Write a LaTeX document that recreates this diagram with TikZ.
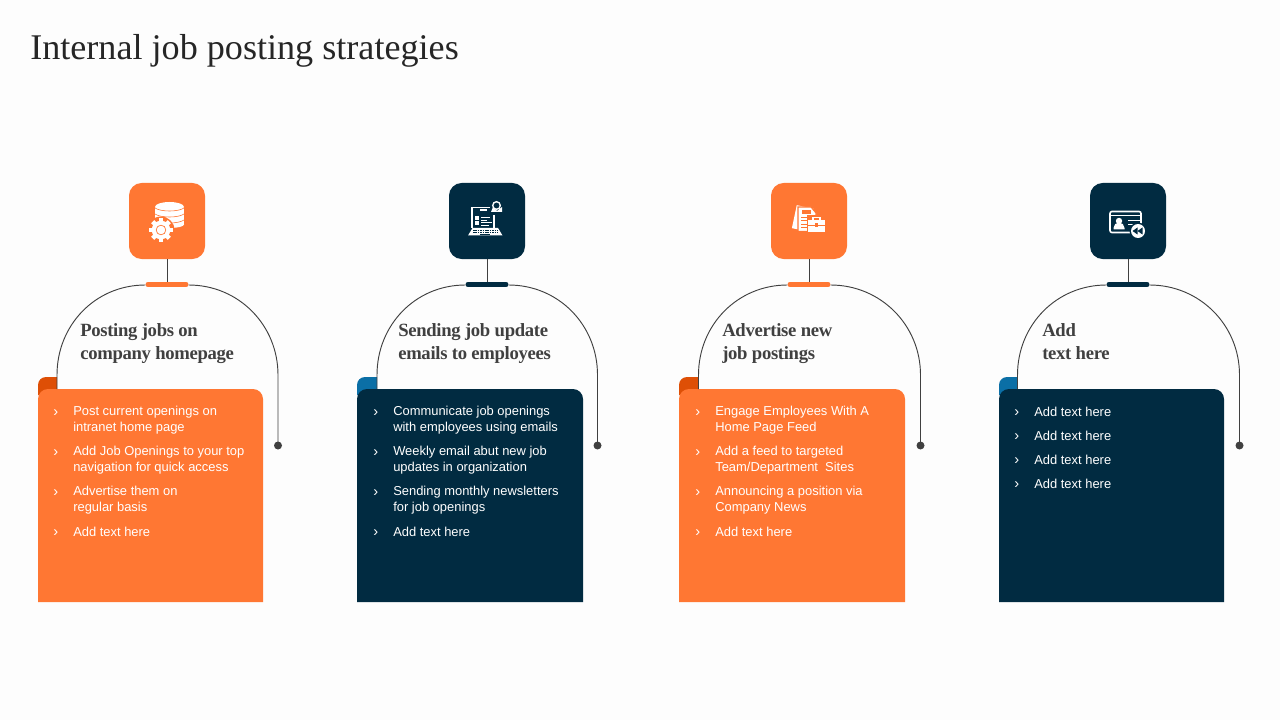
\documentclass[tikz,border=0pt]{standalone}
\usepackage{fontspec}
\setmainfont{Liberation Sans}
\newfontfamily\serifhead{Liberation Serif}
\newfontfamily\seriftight[LetterSpace=-1.7]{Liberation Serif}
\usetikzlibrary{calc}
\definecolor{bgc}{HTML}{FDFDFD}
\definecolor{orangec}{HTML}{FF7733}
\definecolor{orangedk}{HTML}{DE4F06}
\definecolor{navyc}{HTML}{012B41}
\definecolor{bluedk}{HTML}{0B6FA6}
\definecolor{linec}{HTML}{404040}
\definecolor{titlec}{HTML}{262626}
\tikzset{
  x=0.75pt,y=-0.75pt,
  iconbox/.style={draw=none,minimum width=57pt,minimum height=57pt,rounded corners=9.5pt,inner sep=0pt},
  capbar/.style={draw=none,minimum width=32pt,minimum height=3.6pt,rounded corners=1.5pt,inner sep=0pt},
  arcline/.style={draw=linec,line width=0.7pt},
  enddot/.style={circle,fill=linec,minimum size=6pt,inner sep=0pt},
  headtxt/.style={anchor=north west,inner sep=0pt,align=left,text=linec,font=\seriftight\bfseries\fontsize{14}{17.3}\selectfont},
  bultxt/.style={anchor=west,inner sep=0pt,align=left,text=white,font=\fontsize{9.7}{12}\selectfont},
  bulmark/.style={anchor=west,inner sep=0pt,text=white,font=\fontsize{11}{12}\selectfont},
}
% #1 id, #2 card left, #3 card right, #4 icon centre, #5 arc left, #6 arc right, #7 main colour, #8 tab colour
\newcommand{\colframe}[8]{
  \fill[#8] (#5,395) -- (#2,395) [rounded corners=6pt] -- (#2,377) [sharp corners] -- (#5,377) -- cycle;
  \fill[#7,rounded corners=7.5pt] (#2,602) [sharp corners] -- (#2,420) [rounded corners=7.5pt] -- (#2,389) -- (#3,389) -- (#3,420) [sharp corners] -- (#3,602) -- cycle;
  \node[iconbox,fill=#7] (#1icon) at (#4,221) {};
  \node[capbar,fill=#7] (#1bar) at (#4,284.5) {};
  \coordinate (#1start) at (#5,389);
  \node[enddot] (#1dot) at (#6,445.5) {};
  \draw[arcline] (#1icon.south) -- (#1icon.south |- #1bar.north);
  \draw[arcline] (#1start) -- (#5,375) .. controls (#5,325) and ($(#1bar.west)+(-50,0.5)$) .. ($(#1bar.west)+(0,0.5)$);
  \draw[arcline] ($(#1bar.east)+(0,0.5)$) .. controls ($(#1bar.east)+(50,0.5)$) and (#6,325) .. (#6,375) -- (#1dot.center);
}
% #1 name, #2 mark x, #3 text x, #4 centre y, #5 first-line y, #6 text
\newcommand{\bul}[6]{
  \node[bulmark] (#1m) at (#2,#5+1) {›};
  \node[bultxt] (#1t) at (#3,#4) {#6};
}
\begin{document}
\begin{tikzpicture}
\useasboundingbox (0,0) rectangle (1280,720);
\fill[bgc] (0,0) rectangle (1280,720);
\node[anchor=base west,inner sep=0pt,text=titlec,font=\serifhead\fontsize{27.1}{32}\selectfont] (title) at (30,60) {Internal job posting strategies};

\colframe{a}{38}{263}{167}{57}{278}{orangec}{orangedk}
\colframe{b}{357}{583}{487}{377}{597.5}{navyc}{bluedk}
\colframe{c}{679}{905}{809}{698.5}{920.5}{orangec}{orangedk}
\colframe{d}{999}{1224}{1128}{1017.5}{1239.5}{navyc}{bluedk}

\node[headtxt] (ah) at (80,323) {Posting jobs on\\company homepage};
\node[headtxt] (bh) at (398,323) {Sending job update\\emails to employees};
\node[headtxt] (ch) at (722,323) {Advertise new\\job postings};
\node[headtxt] (dh) at (1042,323) {Add\\text here};

\bul{a1}{53}{73}{420}{412}{Post current openings on\\intranet home page}
\bul{a2}{53}{73}{460}{452}{Add Job Openings to your top\\navigation for quick access}
\bul{a3}{53}{73}{500}{492}{Advertise them on\\regular basis}
\bul{a4}{53}{73}{532}{532}{Add text here}

\bul{b1}{373}{393}{420}{412}{Communicate job openings\\with employees using emails}
\bul{b2}{373}{393}{460}{452}{Weekly email abut new job\\updates in organization}
\bul{b3}{373}{393}{500}{492}{Sending monthly newsletters\\for job openings}
\bul{b4}{373}{393}{532}{532}{Add text here}

\bul{c1}{695}{715}{420}{412}{Engage Employees With A\\Home Page Feed}
\bul{c2}{695}{715}{460}{452}{Add a feed to targeted\\Team/Department\ \ Sites}
\bul{c3}{695}{715}{500}{492}{Announcing a position via\\Company News}
\bul{c4}{695}{715}{532}{532}{Add text here}

\bul{d1}{1014}{1034}{412}{412}{Add text here}
\bul{d2}{1014}{1034}{436}{436}{Add text here}
\bul{d3}{1014}{1034}{460}{460}{Add text here}
\bul{d4}{1014}{1034}{484}{484}{Add text here}

% icon 1: database and gear
\begin{scope}[shift={(169.5,221)}]
  \fill[white] (-14.5,-13) rectangle (14.5,3.5);
  \fill[white] (0,-14) ellipse[x radius=14.5,y radius=5];
  \fill[white] (0,3.5) ellipse[x radius=14.5,y radius=3.5];
  \foreach \yy in {-13,-7,-1}{
    \draw[orangec,line width=0.45pt] (-14.5,\yy) .. controls (-9,\yy+4) and (9,\yy+4) .. (14.5,\yy);
  }
  \fill[orangec] (-8.5,9) circle[radius=13.5];
  \foreach \aa in {0,45,...,315}{
    \fill[white,rotate around={\aa:(-8.5,9)}] (-10.7,-2.8) rectangle (-6.3,3);
  }
  \fill[white] (-8.5,9) circle[radius=9.3];
  \fill[orangec] (-8.5,9) circle[radius=5.2];
  \fill[white] (-8.5,9) circle[radius=4.3];
\end{scope}

% icon 2: laptop and mail
\begin{scope}[shift={(487,221)}]
  \draw[white,line width=0.9pt] (-15,7) -- (-15,-13.5) -- (7,-13.5) -- (7,7);
  \fill[white] (-19,14.5) -- (-14.5,7) -- (11,7) -- (15.5,14.5) -- cycle;
  \foreach \yy in {9,11}{\draw[navyc,line width=0.4pt,dash pattern=on 1.2pt off 0.6pt] (-14,\yy) -- (11,\yy);}
  \fill[navyc] (-7,12.6) rectangle (3,13.6);
  \fill[white] (-12,-5) rectangle (-8,-1);
  \fill[white] (-12,0.5) rectangle (-8,4.5);
  \fill[white] (-6,-4) rectangle (3,-3);
  \fill[white] (-6,-1) rectangle (0,-0.2);
  \fill[white] (-6,1.5) rectangle (5,2.5);
  \fill[white] (-6,4) rectangle (2,5);
  \fill[white] (-7,-11.5) rectangle (0,-9.5);
  \fill[navyc] (3,-17.5) rectangle (16,-5.5);
  \fill[white] (4,-9) -- (15,-9) -- (15,-14) -- (10,-10) -- (6,-14) -- cycle;
  \draw[white,line width=1pt] (9.5,-15.5) circle[radius=3.8];
\end{scope}

% icon 3: documents and briefcase
\begin{scope}[shift={(809,221)}]
  \fill[white,rotate around={-12:(-11,-12)}] (-13,-15.5) rectangle (4,8);
  \draw[orangec,line width=0.8pt,fill=white] (-11,-14) -- (2,-14) -- (7,-8) -- (7,10.5) -- (-11,10.5) -- cycle;
  \fill[orangec] (-7,-11) rectangle (2,-7);
  \foreach \yy in {-4,-0.5,3,6.5}{\fill[orangec] (-8.5,\yy) rectangle (4,\yy+1);}
  \fill[orangec] (-2.5,-5.5) rectangle (18,13);
  \draw[white,line width=1pt] (4,-1) -- (4,-3.5) -- (11,-3.5) -- (11,-1);
  \fill[white] (-1,-1) rectangle (16,4);
  \fill[white] (-1,5.5) rectangle (16,11);
  \fill[orangec] (6,2.5) rectangle (9,6.5);
\end{scope}

% icon 4: ID card with rewind badge
\begin{scope}[shift={(1128,221)}]
  \draw[white,line width=1.2pt,rounded corners=1.5pt] (-18,-9.5) rectangle (13,11.5);
  \draw[white,line width=1.1pt] (-17,-5.5) -- (12,-5.5);
  \fill[white] (-9,0) circle[radius=3.2];
  \fill[white] (-14.5,8.5) -- (-14.5,7) arc[start angle=180,end angle=360,radius=5.5] -- (-3.5,8.5) -- cycle;
  \fill[white] (0,-1) rectangle (12,0);
  \fill[white] (0,3) rectangle (7,4);
  \fill[navyc] (10,10) circle[radius=8.5];
  \fill[white] (10,10) circle[radius=7];
  \fill[navyc] (4.5,10) -- (9.5,6.5) -- (9.5,13.5) -- cycle;
  \fill[navyc] (9.5,10) -- (14.5,6.5) -- (14.5,13.5) -- cycle;
\end{scope}
\end{tikzpicture}
\end{document}
